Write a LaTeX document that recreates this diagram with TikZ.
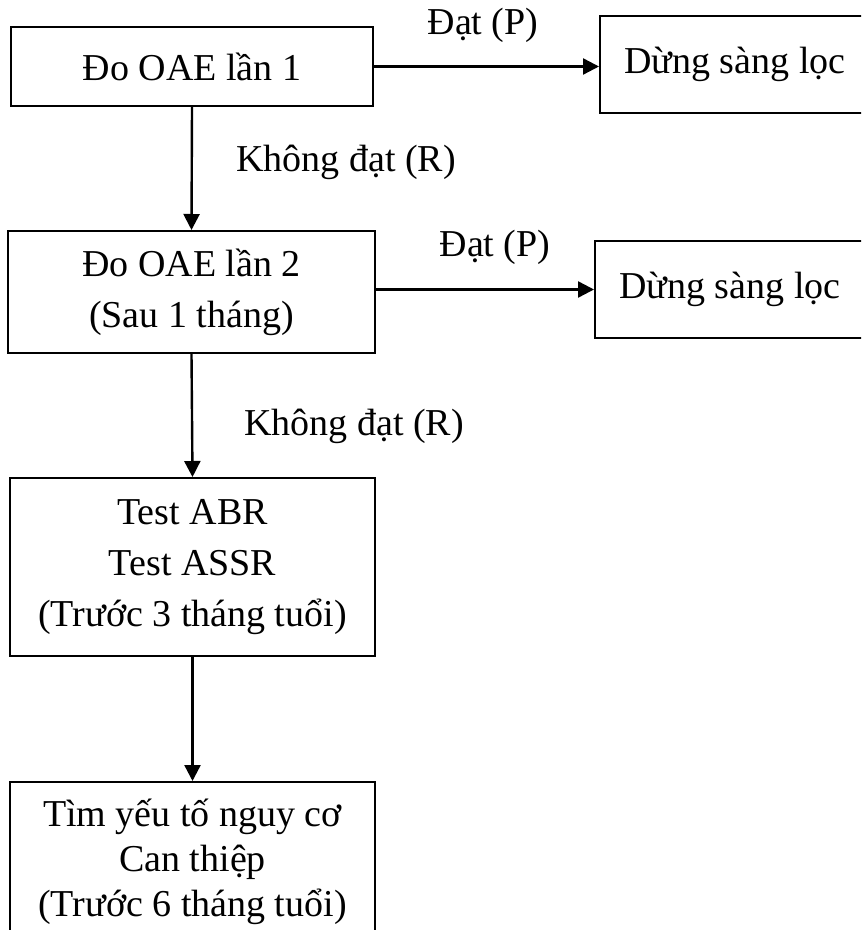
\documentclass[tikz,border=0pt]{standalone}
\usepackage{fontspec}
\setmainfont{Liberation Serif}
\usetikzlibrary{arrows.meta}
\begin{document}
\begin{tikzpicture}[x=0.5pt,y=-0.5pt,
  box/.style={draw,line width=1pt,inner sep=0pt,align=center,font=\fontsize{19}{25.5}\selectfont},
  lbl/.style={anchor=base,inner sep=0pt,font=\fontsize{19}{25.5}\selectfont},
  arr/.style={line width=1.2pt,-{Triangle[length=8pt,width=8pt]}}]
\clip (0,0) rectangle (861,930);
\node[box,minimum width=181pt,minimum height=39.5pt] (b1) at (192,66.5) {Đo OAE lần 1};
\node[box,minimum width=135pt,minimum height=48.5pt] (r1) at (735,64.5) {Dừng sàng lọc};
\node[box,minimum width=183.5pt,minimum height=61pt] (b2) at (191.5,292) {Đo OAE lần 2\\(Sau 1 tháng)};
\node[box,minimum width=135pt,minimum height=48.5pt] (r2) at (730,289.5) {Dừng sàng lọc};
\node[box,minimum width=182.5pt,minimum height=89pt] (b3) at (192.5,567) {Test ABR\\Test ASSR\\(Trước 3 tháng tuổi)};
\node[box,minimum width=182.5pt,minimum height=80pt,font=\fontsize{19}{22.5}\selectfont] (b4) at (192.5,862) {Tìm yếu tố nguy cơ\\Can thiệp\\(Trước 6 tháng tuổi)};
\node[lbl] (l1) at (483,35) {Đạt (P)};
\node[lbl] (l2) at (495,257) {Đạt (P)};
\node[lbl] (l3) at (346,172) {Không đạt (R)};
\node[lbl] (l4) at (354,435) {Không đạt (R)};
\draw[arr] (b1.east) -- (b1.east -| r1.west);
\draw[arr] (r2.west -| b2.east) -- (r2.west);
\draw[arr] (b1.south) -- (b2.north);
\draw[arr] (b2.south) -- (b3.north);
\draw[arr] (b3.south) -- (b4.north);
\end{tikzpicture}
\end{document}
